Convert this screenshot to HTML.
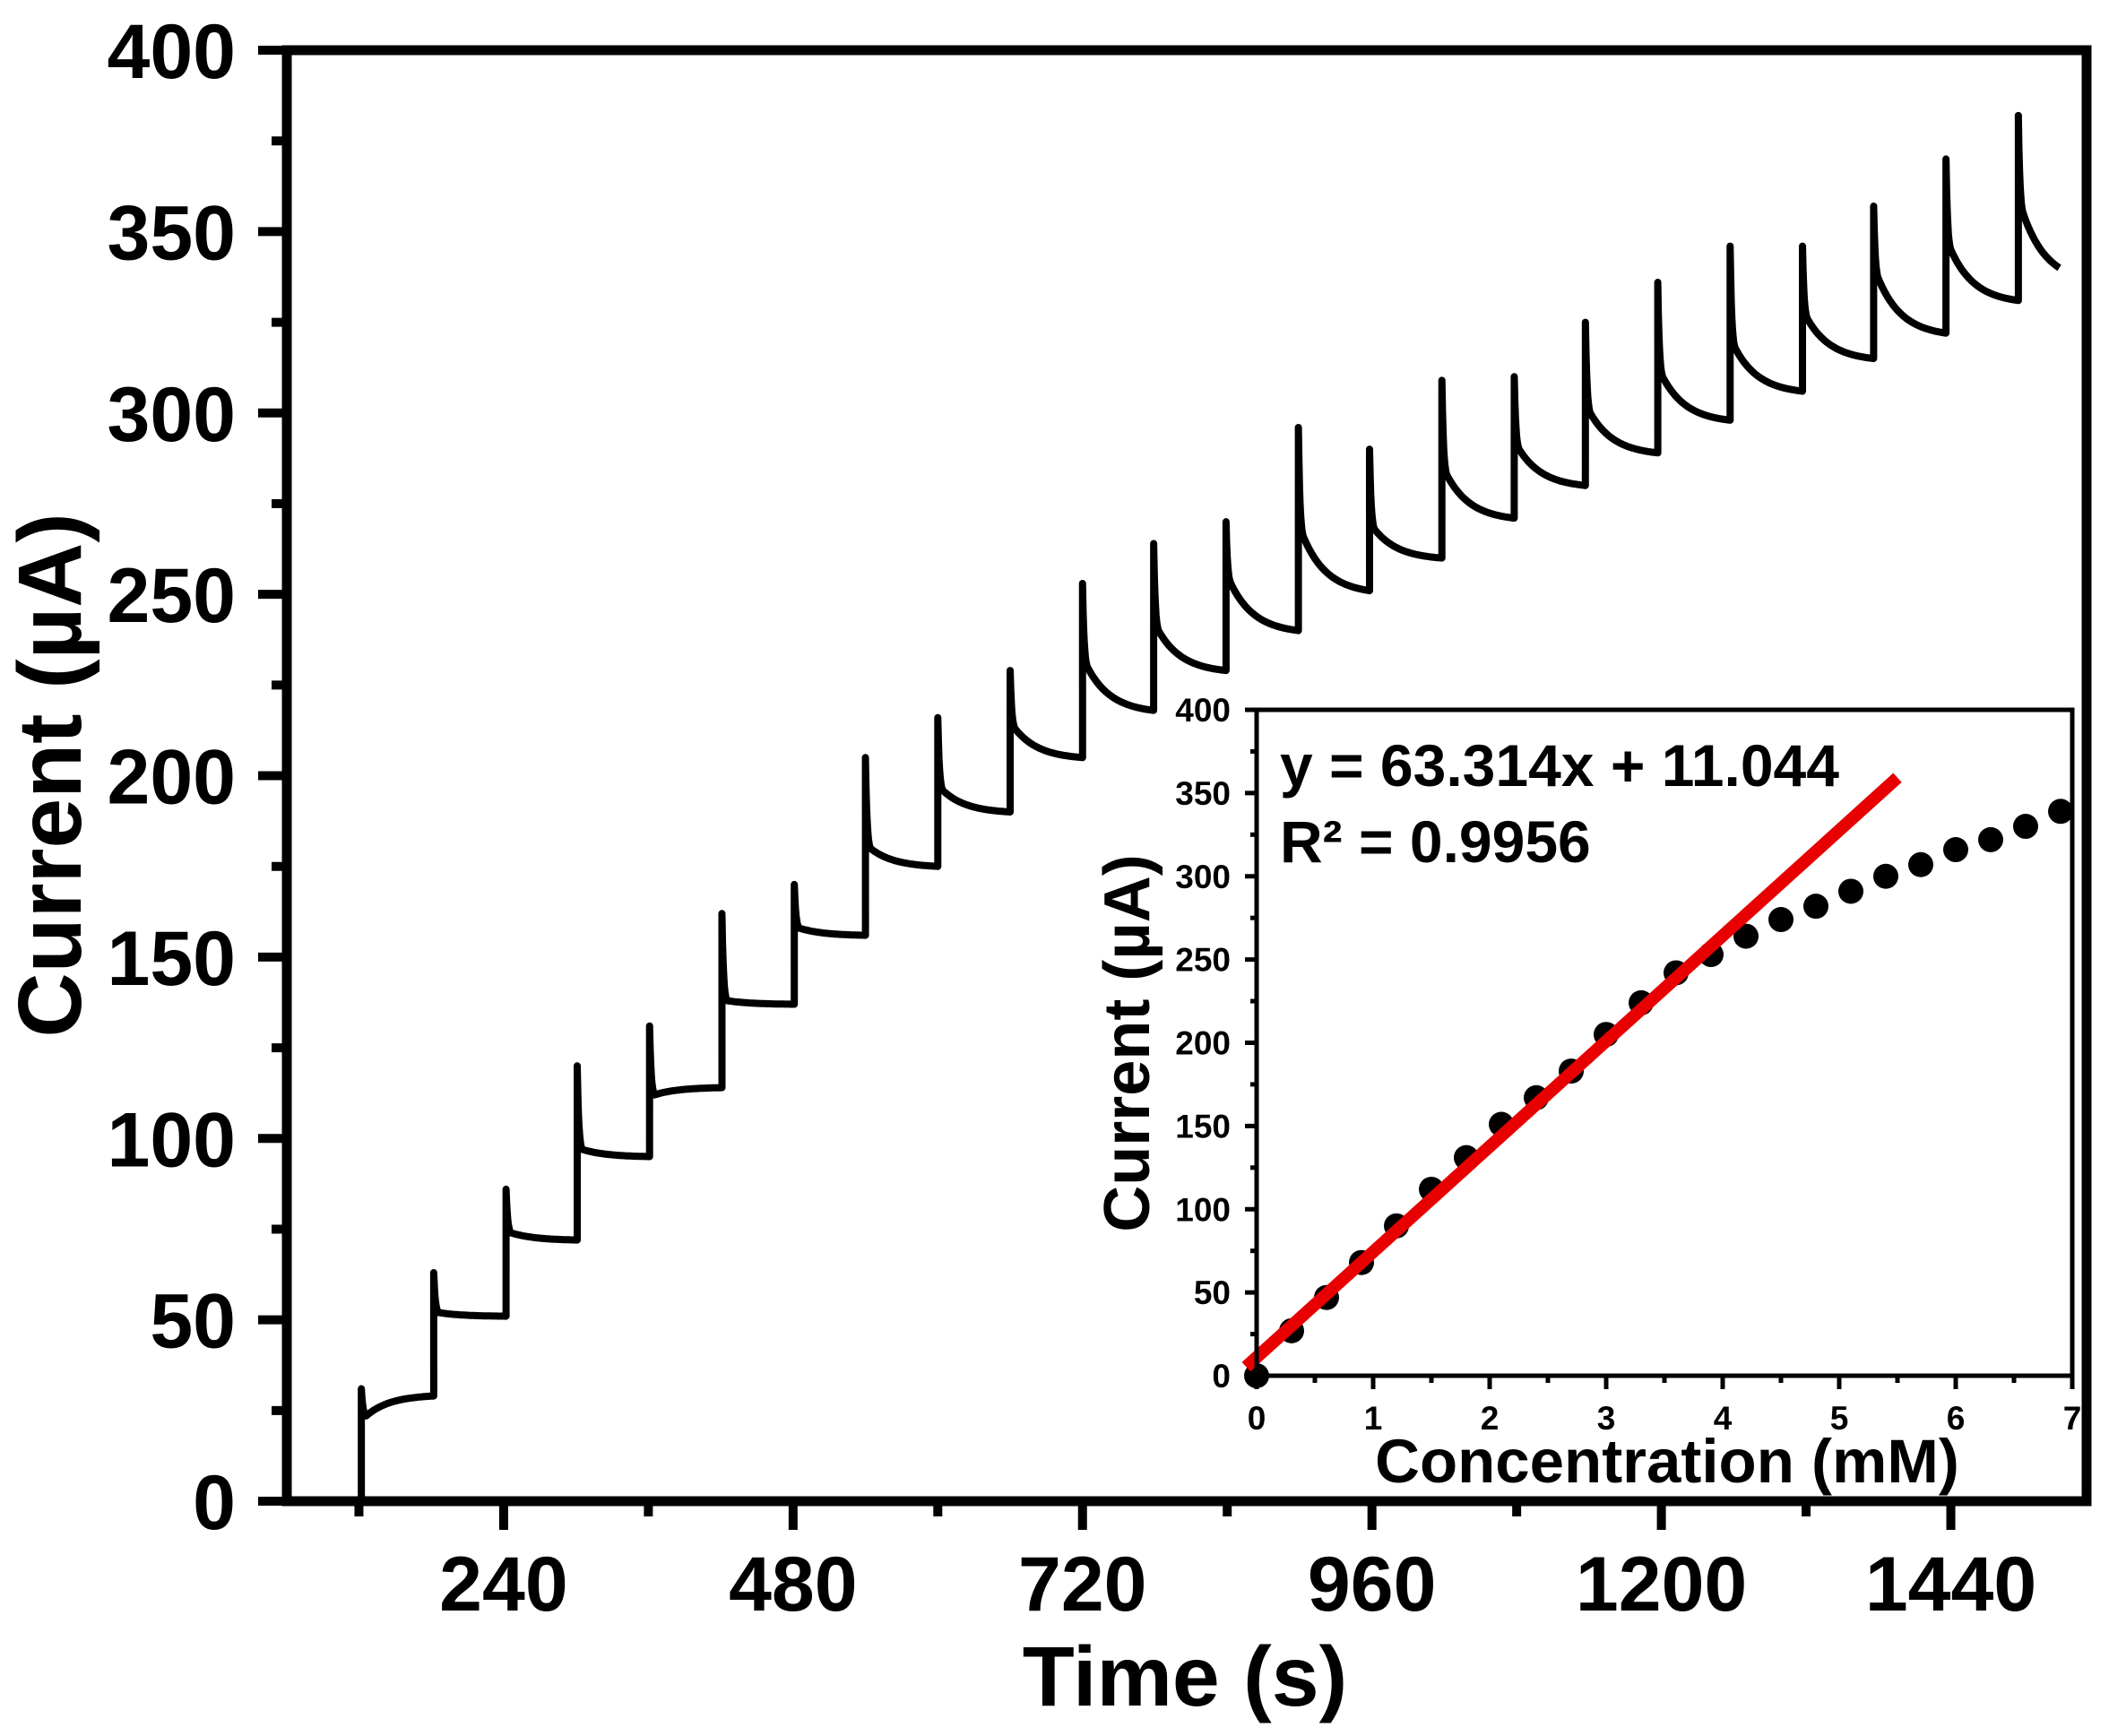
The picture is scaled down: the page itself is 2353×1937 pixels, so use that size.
<!DOCTYPE html>
<html><head><meta charset="utf-8"><style>
html,body{margin:0;padding:0;background:#fff;}
svg{display:block;}
text{font-family:"Liberation Sans",Arial,sans-serif;font-weight:bold;fill:#000;}
</style></head><body>
<svg id="chart" width="2353" height="1937" viewBox="0 0 2353 1937" xmlns="http://www.w3.org/2000/svg">
<g id="main"></g>
<g id="inset"></g>
</svg>
<script>
// ---- main chart data ----
const stepTimes = [122,182,242,301,361,421,481,540,600,660,720,779,839,899,958,1018,1078,1137,1197,1257,1317,1376,1436,1496];
const stepPeaks = [31,63,86,120,131,162,170,205,216,229,253,264,270,296,290,309,310,325,336,346,346,357,370,382];
const stepKnees = [23.5,52,74,97,112,138,158,180,196,213,230,240,253,266,268,283,290,300,310,318,326,337,345,355];
const stepEnds  = [29,51,72,95,114,137,156,175,190,205,218,229,240,251,260,271,280,289,298,306,315,322,331,340];
const endTime = 1530;
const xTicksMain = [240,480,720,960,1200,1440];
const yTicksMain = [0,50,100,150,200,250,300,350,400];
// ---- inset data ----
const concValues = [0,0.3,0.6,0.9,1.2,1.5,1.8,2.1,2.4,2.7,3.0,3.3,3.6,3.9,4.2,4.5,4.8,5.1,5.4,5.7,6.0,6.3,6.6,6.9];
const currentValues = [0,27,47,68,90,112,131,151,167,183,205,224,242,253,264,274,282,291,300,307,316,322,330,339];
const fitSlope = 63.314, fitIntercept = 11.044;
const fitRange = [-0.09,5.5];
const xTicksInset = [0,1,2,3,4,5,6,7];
const yTicksInset = [0,50,100,150,200,250,300,350,400];

const NS="http://www.w3.org/2000/svg";
function mk(tag,attrs,parent){const e=document.createElementNS(NS,tag);for(const k in attrs)e.setAttribute(k,attrs[k]);parent.appendChild(e);return e;}
const main=document.getElementById('main');
const inset=document.getElementById('inset');

const X0=239, XS=1.3455; const xm=t=>X0+XS*t;
const Y0=1675, YS=(1675-56)/400; const ym=v=>Y0-YS*v;
const L=320,R=2328,T=56,B=1675;

let d=`M${xm(stepTimes[0])},${ym(0)}`;
for(let i=0;i<stepTimes.length;i++){
  const t0=stepTimes[i], t1=(i<stepTimes.length-1?stepTimes[i+1]:endTime);
  const Ls=t1-t0;
  d+=` L${xm(t0)},${ym(stepPeaks[i])}`;
  for(let s=0.5;s<=4;s+=0.5){const f=Math.exp(-s/1.3);const v=stepKnees[i]+(stepPeaks[i]-stepKnees[i])*(f-Math.exp(-4/1.3))/(1-Math.exp(-4/1.3));d+=` L${xm(t0+s).toFixed(1)},${ym(v).toFixed(1)}`;}
  const span=Ls-4;
  for(let s=1;s<=span;s+=1){const f=(Math.exp(-s/20)-Math.exp(-span/20))/(1-Math.exp(-span/20));const v=stepEnds[i]+(stepKnees[i]-stepEnds[i])*f;d+=` L${xm(t0+4+s).toFixed(1)},${ym(v).toFixed(1)}`;}
}
const tr=mk('path',{d:d,fill:'none',stroke:'#000','stroke-width':8,'stroke-linejoin':'round'},main);



const fr=mk('rect',{x:L,y:T,width:R-L,height:B-T,fill:'none',stroke:'#000','stroke-width':11},main);



for(let t=120;t<=1500;t+=120){
  const maj=(t%240===0);
  const tk=mk('line',{x1:xm(t),x2:xm(t),y1:B,y2:B+(maj?32:17),stroke:'#000','stroke-width':10},main);
  
  
}
xTicksMain.forEach(t=>{
  const lb=mk('text',{x:xm(t),y:1797,'text-anchor':'middle','font-size':86},main);lb.textContent=t;
  
  
});
for(let v=0;v<=400;v+=25){
  const maj=(v%50===0);
  const tk=mk('line',{x1:L,x2:L-(maj?32:17),y1:ym(v),y2:ym(v),stroke:'#000','stroke-width':10},main);
  
  
}
yTicksMain.forEach(v=>{
  const lb=mk('text',{x:263,y:ym(v)+31,'text-anchor':'end','font-size':86},main);lb.textContent=v;
  
  
});
const xt=mk('text',{x:1322,y:1903,'text-anchor':'middle','font-size':95},main);xt.textContent='Time (s)';


const yt=mk('text',{x:0,y:0,'text-anchor':'middle','font-size':100,transform:'translate(90,865) rotate(-90)'},main);yt.textContent='Current (µA)';



const IX0=1402, IXS=130; const xi=c=>IX0+IXS*c;
const IY0=1535, IYS=(1535-792)/400; const yi=v=>IY0-IYS*v;
const iL=1402,iR=2312,iT=792,iB=1535;
const bg=mk('rect',{x:iL,y:iT,width:iR-iL,height:iB-iT,fill:'#fff',stroke:'none'},inset);


concValues.forEach((c,i)=>{
  const p=mk('circle',{cx:xi(c),cy:yi(currentValues[i]),r:14,fill:'#000'},inset);
  
  
});
const fl=mk('line',{x1:xi(fitRange[0]),y1:yi(fitSlope*fitRange[0]+fitIntercept),x2:xi(fitRange[1]),y2:yi(fitSlope*fitRange[1]+fitIntercept),stroke:'#e80000','stroke-width':14},inset);


const ifr=mk('rect',{x:iL,y:iT,width:iR-iL,height:iB-iT,fill:'none',stroke:'#000','stroke-width':5},inset);


for(let c=0;c<=7;c+=0.5){
  const maj=(c%1===0);
  const tk=mk('line',{x1:xi(c),x2:xi(c),y1:iB,y2:iB+(maj?15:8),stroke:'#000','stroke-width':5},inset);
  
  
}
xTicksInset.forEach(c=>{
  const lb=mk('text',{x:xi(c),y:1595,'text-anchor':'middle','font-size':37},inset);lb.textContent=c;
  
  
});
for(let v=0;v<=400;v+=25){
  const maj=(v%50===0);
  const tk=mk('line',{x1:iL,x2:iL-(maj?13:7),y1:yi(v),y2:yi(v),stroke:'#000','stroke-width':5},inset);
  
  
}
yTicksInset.forEach(v=>{
  const lb=mk('text',{x:1373,y:yi(v)+13,'text-anchor':'end','font-size':37},inset);lb.textContent=v;
  
  
});
const ixt=mk('text',{x:1860,y:1654,'text-anchor':'middle','font-size':69},inset);ixt.textContent='Concentration (mM)';


const iyt=mk('text',{x:0,y:0,'text-anchor':'middle','font-size':72,transform:'translate(1282,1164) rotate(-90)'},inset);iyt.textContent='Current (µA)';


const eq=mk('text',{x:1428,y:877,'font-size':66},inset);eq.textContent='y = 63.314x + 11.044';


const r2=mk('text',{x:1428,y:962,'font-size':66},inset);r2.textContent='R² = 0.9956';


</script>
</body></html>
